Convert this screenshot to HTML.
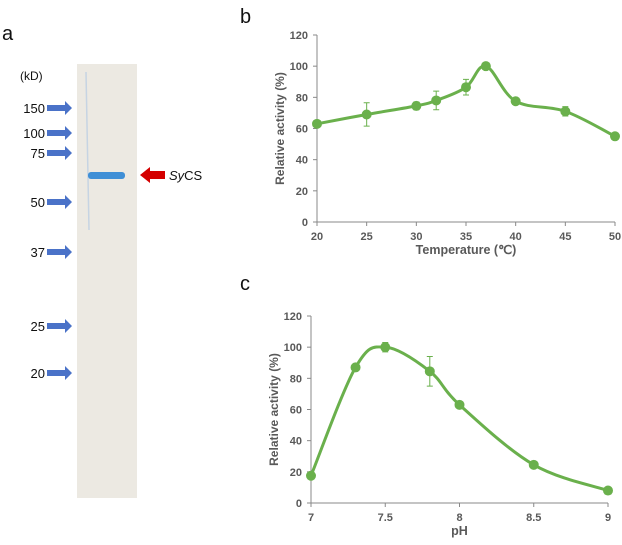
<!DOCTYPE html>
<html><head><meta charset="utf-8"><style>
body{margin:0;background:#fff;width:622px;height:540px;overflow:hidden;font-family:"Liberation Sans",sans-serif}
svg text{font-family:"Liberation Sans",sans-serif}
</style></head><body>
<svg width="622" height="540" viewBox="0 0 622 540">
<g>
<text x="2" y="40" font-size="20" fill="#111">a</text>
<rect x="77" y="64" width="60" height="434" fill="#ece9e2"/>
<line x1="86" y1="72" x2="89" y2="230" stroke="#c6d4e3" stroke-width="1.5"/>
<rect x="88" y="172" width="37" height="7" rx="3" fill="#3f8fd6"/>
<text x="20" y="80" font-size="12" fill="#111">(kD)</text>
<g id="markers"></g>
<polygon points="140,175 150,167 150,171 165,171 165,179 150,179 150,183" fill="#d40000"/>
<text x="169" y="180" font-size="13" fill="#111"><tspan font-style="italic">Sy</tspan>CS</text>
</g>
<text x="240" y="23" font-size="20" fill="#111">b</text>
<text x="240" y="290" font-size="20" fill="#111">c</text>
<g id="chartB"></g>
<g id="chartC"></g>
</svg>
<script>
const markerLabels=["150","100","75","50","37","25","20"];
const markerY=[108,133,153,202,252,326,373];
const tempX=[20,25,30,32,35,37,40,45,50];
const tempY=[63,69,74.5,78,86.5,100,77.5,71,55];
const tempErr=[1.5,7.5,2.5,6,5,1,1.5,3,1];
const tempTicksX=[20,25,30,35,40,45,50];
const yTicks=[0,20,40,60,80,100,120];
const phX=[7,7.3,7.5,7.8,8,8.5,9];
const phY=[17.5,87,100,84.5,63,24.5,8];
const phErr=[1,1,3,9.5,1,1,1];
const phTicksX=[7,7.5,8,8.5,9];
const NS="http://www.w3.org/2000/svg";
function mk(p,t,a,txt){const e=document.createElementNS(NS,t);for(const k in a)e.setAttribute(k,a[k]);if(txt!=null)e.textContent=txt;p.appendChild(e);return e;}
const mg=document.getElementById('markers');
markerLabels.forEach((l,i)=>{const y=markerY[i];
const t=mk(mg,'text',{x:45,y:y+5,'font-size':13,fill:'#111','text-anchor':'end'},l);


const a=mk(mg,'polygon',{points:`47,${y-3} 65,${y-3} 65,${y-7} 72,${y} 65,${y+7} 65,${y+3} 47,${y+3}`,fill:'#4a72c8'});

});
function smooth(pts){let d=`M${pts[0][0]},${pts[0][1]}`;for(let i=0;i<pts.length-1;i++){const p0=pts[i-1]||pts[i],p1=pts[i],p2=pts[i+1],p3=pts[i+2]||p2;const t=0.17;d+=` C${p1[0]+(p2[0]-p0[0])*t},${p1[1]+(p2[1]-p0[1])*t} ${p2[0]-(p3[0]-p1[0])*t},${p2[1]-(p3[1]-p1[1])*t} ${p2[0]},${p2[1]}`;}return d;}
function chart(g,xs,ys,es,xt,x0,x1,px0,px1,py0,py1,xtitle,name){
const sx=v=>px0+(v-x0)/(x1-x0)*(px1-px0), sy=v=>py0-(v/120)*(py0-py1);
mk(g,'line',{x1:px0,y1:py1,x2:px0,y2:py0,stroke:'#888'});
mk(g,'line',{x1:px0,y1:py0,x2:px1,y2:py0,stroke:'#888'});
yTicks.forEach(v=>{mk(g,'line',{x1:px0-4,x2:px0,y1:sy(v),y2:sy(v),stroke:'#888'});
const t=mk(g,'text',{x:px0-9,y:sy(v)+4,'font-size':11,'font-weight':'bold',fill:'#595959','text-anchor':'end'},v);

});
xt.forEach(v=>{mk(g,'line',{x1:sx(v),x2:sx(v),y1:py0,y2:py0+4,stroke:'#888'});
const t=mk(g,'text',{x:sx(v),y:py0+18,'font-size':11,'font-weight':'bold',fill:'#595959','text-anchor':'middle'},v);

});
const yt=mk(g,'text',{transform:`translate(${px0-33},${(py0+py1)/2}) rotate(-90)`,'font-size':12,'font-weight':'bold',fill:'#595959','text-anchor':'middle'},'Relative activity (%)');


const xtt=mk(g,'text',{x:(px0+px1)/2,y:py0+32,'font-size':12.5,'font-weight':'bold',fill:'#595959','text-anchor':'middle'},xtitle);


const pts=xs.map((x,i)=>[sx(x),sy(ys[i])]);
const ln=mk(g,'path',{d:smooth(pts),fill:'none',stroke:'#6ab04c',"stroke-width":3});


xs.forEach((x,i)=>{const cx=sx(x),a=sy(ys[i]+es[i]),b=sy(ys[i]-es[i]);
mk(g,'path',{d:`M${cx},${a}V${b}M${cx-3},${a}H${cx+3}M${cx-3},${b}H${cx+3}`,stroke:'#6ab04c','stroke-width':1});
const c=mk(g,'circle',{cx:cx,cy:sy(ys[i]),r:5,fill:'#6ab04c'});

});}
chart(document.getElementById('chartB'),tempX,tempY,tempErr,tempTicksX,20,50,317,615,222,35,'Temperature (℃)','temperature');
chart(document.getElementById('chartC'),phX,phY,phErr,phTicksX,7,9,311,608,503,316,'pH','ph');
</script>
</body></html>
